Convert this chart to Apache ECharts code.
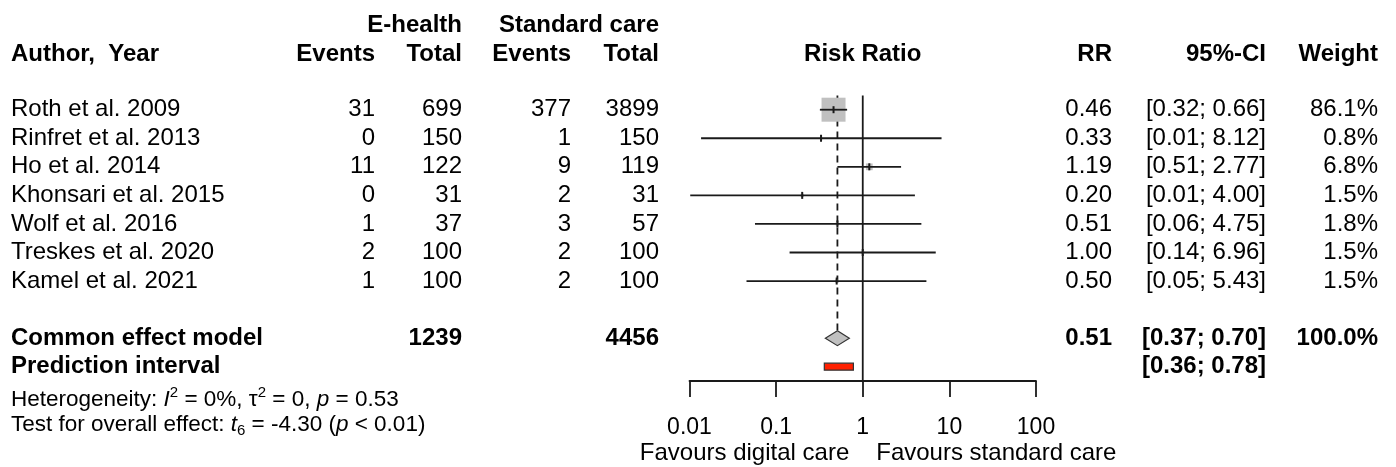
<!DOCTYPE html>
<html><head><meta charset="utf-8">
<script src="https://cdn.jsdelivr.net/npm/echarts@6/dist/echarts.min.js"></script>
<style>html,body{margin:0;padding:0;background:#fff}#c{width:1396px;height:467px}</style>
</head><body><div id="c"></div>
<script>
// ---------------- data ----------------
const studies   = ['Roth et al. 2009','Rinfret et al. 2013','Ho et al. 2014','Khonsari et al. 2015','Wolf et al. 2016','Treskes et al. 2020','Kamel et al. 2021'];
const ehEvents  = [31, 0, 11, 0, 1, 2, 1];
const ehTotal   = [699, 150, 122, 31, 37, 100, 100];
const scEvents  = [377, 1, 9, 2, 3, 2, 2];
const scTotal   = [3899, 150, 119, 31, 57, 100, 100];
const rr        = [0.46, 0.33, 1.19, 0.20, 0.51, 1.00, 0.50];
const ciLow     = [0.32, 0.0136, 0.51, 0.0102, 0.057, 0.143, 0.0455];
const ciHigh    = [0.66, 8.12, 2.77, 4.00, 4.75, 6.96, 5.43];
const ciText    = ['[0.32; 0.66]','[0.01; 8.12]','[0.51; 2.77]','[0.01; 4.00]','[0.06; 4.75]','[0.14; 6.96]','[0.05; 5.43]'];
const weights   = [86.1, 0.8, 6.8, 1.5, 1.8, 1.5, 1.5];
const commonLabel  = 'Common effect model';
const commonTotals = [1239, 4456];
const commonEst    = [0.37, 0.51, 0.70];   // low, estimate, high
const commonCIText = '[0.37; 0.70]';
const commonWeight = '100.0%';
const predLabel    = 'Prediction interval';
const predInterval = [0.36, 0.78];
const predCIText   = '[0.36; 0.78]';
const tickLabels   = ['0.01','0.1','1','10','100'];
const labelLeft    = 'Favours digital care';
const labelRight   = 'Favours standard care';
const hetText  = 'Heterogeneity: {it|I}{sup|2} = 0%, τ{sup|2} = 0, {it|p} = 0.53';
const testText = 'Test for overall effect: {it|t}{sub|6} = -4.30 ({it|p} < 0.01)';

// ---------------- layout ----------------
const FONT = '"Liberation Sans", Arial, Helvetica, sans-serif';
const FS = 24, FOOT = 22.5;
const INK = '#000', LINE = '#1a1a1a';
const col = {author: 11, ehEv: 375, ehTot: 462, scEv: 571, scTot: 659, rr: 1112, ci: 1266, wt: 1378};
const rowHeadTop = -1.97, rowHead = -0.92, rowCommon = 9, rowPred = 10, rowHet = 11.15, rowTest = 12.02, rowFav = 13.04;

const texts = [];
function T(row, x, text, align, bold, extra) {
  texts.push(Object.assign({row: row, x: x, text: String(text), align: align || 'right', bold: !!bold}, extra || {}));
}
// headers
T(rowHeadTop, col.ehTot, 'E-health', 'right', true);
T(rowHeadTop, col.scTot, 'Standard care', 'right', true);
T(rowHead, col.author, 'Author,  Year', 'left', true);
T(rowHead, col.ehEv, 'Events', 'right', true);
T(rowHead, col.ehTot, 'Total', 'right', true);
T(rowHead, col.scEv, 'Events', 'right', true);
T(rowHead, col.scTot, 'Total', 'right', true);
T(rowHead, null, 'Risk Ratio', 'center', true, {ref: 0});
T(rowHead, col.rr, 'RR', 'right', true);
T(rowHead, col.ci, '95%-CI', 'right', true);
T(rowHead, col.wt, 'Weight', 'right', true);
// studies
studies.forEach(function (s, i) {
  const r = i + 1;
  T(r, col.author, s, 'left');
  T(r, col.ehEv, ehEvents[i]);
  T(r, col.ehTot, ehTotal[i]);
  T(r, col.scEv, scEvents[i]);
  T(r, col.scTot, scTotal[i]);
  T(r, col.rr, rr[i].toFixed(2));
  T(r, col.ci, ciText[i]);
  T(r, col.wt, weights[i].toFixed(1) + '%');
});
// summary
T(rowCommon, col.author, commonLabel, 'left', true);
T(rowCommon, col.ehTot, commonTotals[0], 'right', true);
T(rowCommon, col.scTot, commonTotals[1], 'right', true);
T(rowCommon, col.rr, commonEst[1].toFixed(2), 'right', true);
T(rowCommon, col.ci, commonCIText, 'right', true);
T(rowCommon, col.wt, commonWeight, 'right', true);
T(rowPred, col.author, predLabel, 'left', true);
T(rowPred, col.ci, predCIText, 'right', true);
// footnotes
const richFoot = {
  it:  {fontFamily: FONT, fontSize: FOOT, fontStyle: 'italic', fill: INK, lineHeight: 28},
  sup: {fontFamily: FONT, fontSize: 15, fill: INK, verticalAlign: 'top', lineHeight: 15},
  sub: {fontFamily: FONT, fontSize: 15, fill: INK, verticalAlign: 'bottom', lineHeight: 15}
};
T(rowHet, col.author, hetText, 'left', false, {size: FOOT, rich: richFoot});
T(rowTest, col.author, testText, 'left', false, {size: FOOT, rich: richFoot});
// favours labels
T(rowFav, null, labelLeft, 'right', false, {ref: -13.5});
T(rowFav, null, labelRight, 'left', false, {ref: 13.5});

// ---------------- chart ----------------
const chart = echarts.init(document.getElementById('c'), null, {renderer: 'canvas'});

const studyData = studies.map(function (s, i) { return [rr[i], i + 1, ciLow[i], ciHigh[i], weights[i]]; });
const maxW = Math.max.apply(null, weights);

const option = {
  animation: false,
  backgroundColor: '#fff',
  grid: {left: 689.5, right: 360, top: 9.75, height: 371.25, containLabel: false, outerBoundsMode: 'none'},
  xAxis: {
    type: 'log', logBase: 10, min: 0.01, max: 100, position: 'bottom',
    axisLine: {show: true, onZero: false, lineStyle: {color: LINE, width: 1.8}},
    axisTick: {show: true, inside: false, length: 16, lineStyle: {color: LINE, width: 1.8}},
    minorTick: {show: false},
    splitLine: {show: false},
    axisLabel: {
      margin: 35, fontSize: 23, fontFamily: FONT, color: INK,
      formatter: function (v) { const k = Math.round(Math.log10(v)) + 2; return tickLabels[k] !== undefined ? tickLabels[k] : ''; }
    }
  },
  yAxis: {type: 'value', min: -2.5, max: 10.5, inverse: true, show: false},
  series: [
    { // reference lines
      type: 'custom', clip: false, silent: true,
      data: [[1, 0.5, 10.5, 0], [commonEst[1], 0.5, rowCommon, 1]],
      renderItem: function (params, api) {
        const x = api.value(0);
        const p1 = api.coord([x, api.value(1)]);
        const p2 = api.coord([x, api.value(2)]);
        const dashed = api.value(3) === 1;
        return {type: 'line', shape: {x1: p1[0], y1: p1[1], x2: p2[0], y2: dashed ? p2[1] - 8 : p2[1]},
          style: {stroke: LINE, lineWidth: 1.8, lineDash: dashed ? [7, 5] : null}};
      }
    },
    { // study marks
      type: 'custom', clip: false, silent: true,
      data: studyData,
      renderItem: function (params, api) {
        const c = api.coord([api.value(0), api.value(1)]);
        const lo = api.coord([api.value(2), api.value(1)]);
        const hi = api.coord([api.value(3), api.value(1)]);
        const side = 24 * Math.sqrt(api.value(4) / maxW);
        return {type: 'group', children: [
          {type: 'rect', shape: {x: c[0] - side / 2, y: c[1] - side / 2, width: side, height: side}, style: {fill: '#c0c0c0'}},
          {type: 'line', shape: {x1: lo[0], y1: c[1], x2: hi[0], y2: c[1]}, style: {stroke: LINE, lineWidth: 1.8}},
          {type: 'line', shape: {x1: c[0], y1: c[1] - 3.5, x2: c[0], y2: c[1] + 3.5}, style: {stroke: LINE, lineWidth: 2}}
        ]};
      }
    },
    { // common effect diamond
      type: 'custom', clip: false, silent: true,
      data: [[commonEst[1], rowCommon, commonEst[0], commonEst[2]]],
      renderItem: function (params, api) {
        const c = api.coord([api.value(0), api.value(1)]);
        const lo = api.coord([api.value(2), api.value(1)]);
        const hi = api.coord([api.value(3), api.value(1)]);
        const h = 7.5;
        return {type: 'polygon', shape: {points: [[lo[0], c[1]], [c[0], c[1] - h], [hi[0], c[1]], [c[0], c[1] + h]]},
          style: {fill: '#c0c0c0', stroke: '#333', lineWidth: 1.2}};
      }
    },
    { // prediction interval
      type: 'custom', clip: false, silent: true,
      data: [[predInterval[0], rowPred, predInterval[1]]],
      renderItem: function (params, api) {
        const lo = api.coord([api.value(0), api.value(1)]);
        const hi = api.coord([api.value(2), api.value(1)]);
        return {type: 'rect', shape: {x: lo[0], y: lo[1] - 3.5, width: hi[0] - lo[0], height: 7},
          style: {fill: '#ff2000', stroke: '#333', lineWidth: 1.2}};
      }
    },
    { // table text
      type: 'custom', clip: false, silent: true,
      data: texts.map(function (t, i) { return [1, t.row, i]; }),
      renderItem: function (params, api) {
        const t = texts[params.dataIndex];
        const p = api.coord([1, t.row]);
        const x = t.ref !== undefined ? p[0] + t.ref : t.x;
        const style = {
          legacy: false, text: t.text, fill: INK,
          fontFamily: FONT, fontSize: t.size || FS, fontWeight: t.bold ? 'bold' : 'normal',
          align: t.align, verticalAlign: 'middle'
        };
        if (t.rich) { style.rich = t.rich; style.lineHeight = 28; }
        return {type: 'text', x: x, y: p[1], style: style};
      }
    }
  ]
};
chart.setOption(option);
</script>
</body></html>
